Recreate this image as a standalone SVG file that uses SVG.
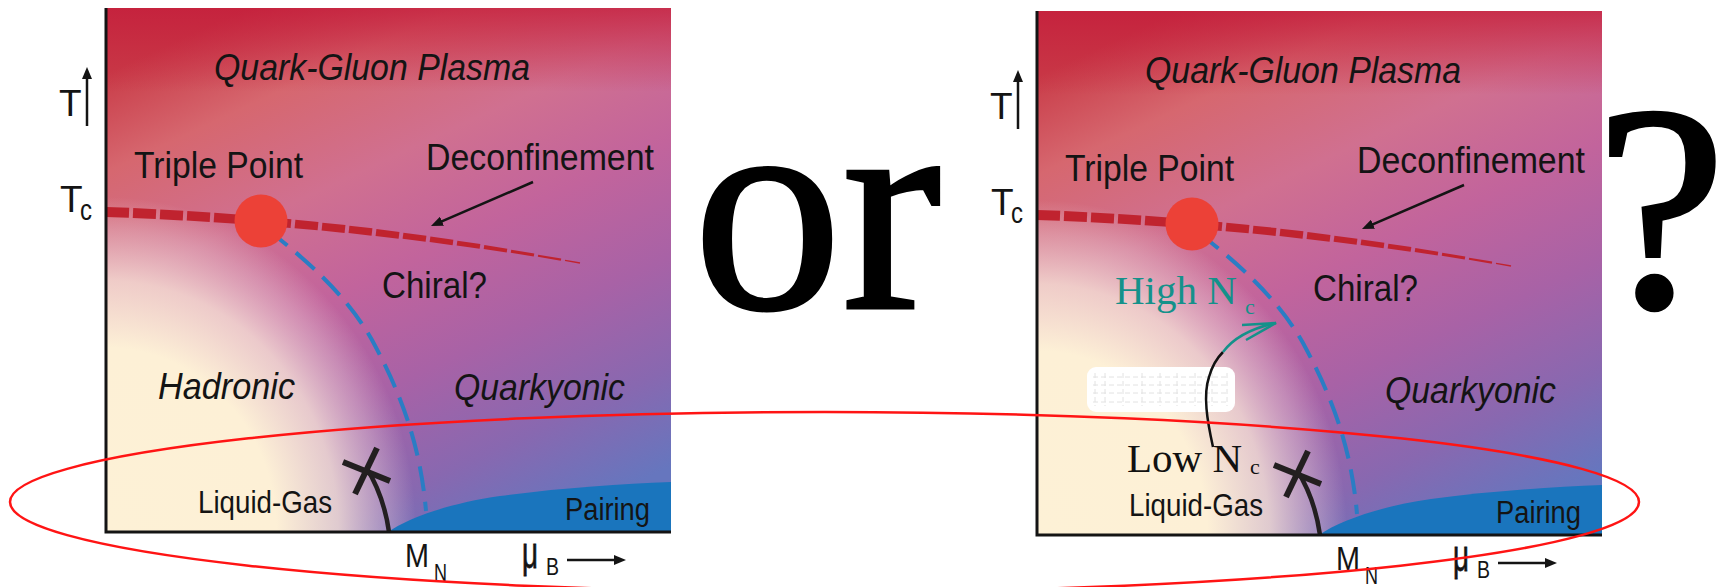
<svg xmlns="http://www.w3.org/2000/svg" width="1726" height="587" viewBox="0 0 1726 587">
<style>
.lbl{font-family:"Liberation Sans",Arial,sans-serif;fill:#141414}
.it{font-style:italic}
.ser{font-family:"Liberation Serif","Times New Roman",serif}
.tc{stroke:#c0232f;fill:none;stroke-linecap:butt}
.blue{stroke:#2a7dc4;stroke-width:4;fill:none;stroke-dasharray:25 11}
.ax{stroke:#141414;stroke-width:3;fill:none}
.arr{stroke:#141414;stroke-width:2.5;fill:none}
.grid{stroke:#e2e2e2;stroke-width:1;fill:none}
</style>
<defs>
<linearGradient id="bg" x1="0.25" y1="0" x2="0.75" y2="1">
<stop offset="0" stop-color="#c93c48"/>
<stop offset="0.15" stop-color="#d6676f"/>
<stop offset="0.33" stop-color="#d07090"/>
<stop offset="0.5" stop-color="#c2649c"/>
<stop offset="0.68" stop-color="#a862a6"/>
<stop offset="0.85" stop-color="#8868b0"/>
<stop offset="1" stop-color="#6676be"/>
</linearGradient>
<linearGradient id="topband" x1="0" y1="0" x2="0" y2="1">
<stop offset="0" stop-color="#c41a3a" stop-opacity="0.75"/>
<stop offset="0.16" stop-color="#c41a3a" stop-opacity="0"/>
</linearGradient>
<radialGradient id="cream" gradientUnits="userSpaceOnUse" cx="0" cy="0" r="1" fx="0" fy="0" gradientTransform="translate(106,532) scale(310,335)">
<stop offset="0" stop-color="#fdf1d6" stop-opacity="1"/>
<stop offset="0.55" stop-color="#fdf0d6" stop-opacity="1"/>
<stop offset="0.75" stop-color="#f8e6d8" stop-opacity="0.78"/>
<stop offset="0.9" stop-color="#f0d8da" stop-opacity="0.35"/>
<stop offset="1" stop-color="#f0d8da" stop-opacity="0"/>
</radialGradient>
<marker id="ah" viewBox="0 0 12 10" refX="4" refY="5" markerWidth="12" markerHeight="10" markerUnits="userSpaceOnUse" orient="auto">
<path d="M0,0 L12,5 L0,10 z" fill="#141414"/>
</marker>
</defs>

<g id="panel-left">
<g id="bg-left">
<rect x="106" y="8" width="565" height="524" fill="url(#bg)"/>
<rect x="106" y="8" width="565" height="524" fill="url(#topband)"/>
<rect x="106" y="8" width="565" height="524" fill="url(#cream)"/>
</g>
<path id="pairing-left" d="M388,532 C408,518 450,503 500,496 C560,488 620,484 671,482 V532 Z" fill="#1a75bd"/>
<g id="tc-line-left" class="tc">
<line x1="106" y1="212" x2="129" y2="212.86" stroke-width="10"/>
<line x1="133" y1="213.03" x2="156" y2="214.09" stroke-width="9.94"/>
<line x1="160" y1="214.29" x2="183" y2="215.54" stroke-width="9.83"/>
<line x1="187" y1="215.77" x2="210" y2="217.22" stroke-width="9.66"/>
<line x1="214" y1="217.48" x2="237" y2="219.12" stroke-width="9.43"/>
<line x1="241" y1="219.42" x2="264" y2="221.25" stroke-width="9.14"/>
<line x1="268" y1="221.58" x2="291" y2="223.61" stroke-width="8.79"/>
<line x1="295" y1="223.97" x2="318" y2="226.19" stroke-width="8.39"/>
<line x1="322" y1="226.59" x2="345" y2="229" stroke-width="7.93"/>
<line x1="349" y1="229.43" x2="372" y2="232.03" stroke-width="7.41"/>
<line x1="376" y1="232.5" x2="399" y2="235.3" stroke-width="6.83"/>
<line x1="403" y1="235.8" x2="426" y2="238.78" stroke-width="6.19"/>
<line x1="430" y1="239.32" x2="453" y2="242.5" stroke-width="5.49"/>
<line x1="457" y1="243.07" x2="480" y2="246.44" stroke-width="4.74"/>
<line x1="484" y1="247.04" x2="507" y2="250.6" stroke-width="3.92"/>
<line x1="511" y1="251.24" x2="534" y2="255" stroke-width="3.05"/>
<line x1="538" y1="255.67" x2="561" y2="259.62" stroke-width="2.12"/>
<line x1="565" y1="260.32" x2="580" y2="263" stroke-width="1.28"/>
</g>
<path id="chiral-line-left" class="blue" d="M268,230 C300,255 345,292 372,340 C398,388 420,440 426,511"/>
<g id="liquid-gas-left">
<path d="M389,532 Q384,496 366,467" stroke="#231f20" stroke-width="4.5" fill="none"/>
<line x1="343" y1="462" x2="390" y2="481" stroke="#231f20" stroke-width="6"/>
<line x1="377" y1="448" x2="355" y2="494" stroke="#231f20" stroke-width="6"/>
</g>
<circle id="triple-point-left" cx="261" cy="221" r="26.5" fill="#ec4137"/>
<path id="axes-left" class="ax" d="M106,8 V532 H671"/>
<line id="decon-arrow-left" class="arr" x1="533" y1="182" x2="438.3" y2="222.8" marker-end="url(#ah)"/>
<line id="t-arrow-left" class="arr" x1="87" y1="126" x2="87" y2="75" marker-end="url(#ah)"/>
<line id="mu-arrow-left" class="arr" x1="567" y1="560" x2="618" y2="560" marker-end="url(#ah)"/>
<g id="labels-left" class="lbl">
<text class="it" x="214" y="80" font-size="37" textLength="316" lengthAdjust="spacingAndGlyphs">Quark-Gluon Plasma</text>
<text x="134" y="178" font-size="37" textLength="169" lengthAdjust="spacingAndGlyphs">Triple Point</text>
<text x="426" y="170" font-size="37" textLength="228" lengthAdjust="spacingAndGlyphs">Deconfinement</text>
<text x="382" y="298" font-size="37" textLength="105" lengthAdjust="spacingAndGlyphs">Chiral?</text>
<text class="it" x="158" y="399" font-size="37" textLength="137" lengthAdjust="spacingAndGlyphs">Hadronic</text>
<text class="it" x="454" y="400" font-size="37" textLength="171" lengthAdjust="spacingAndGlyphs">Quarkyonic</text>
<text x="198" y="513" font-size="32" textLength="134" lengthAdjust="spacingAndGlyphs">Liquid-Gas</text>
<text x="565" y="520" font-size="31" textLength="85" lengthAdjust="spacingAndGlyphs">Pairing</text>
<text x="59" y="116" font-size="37">T</text>
<text x="60" y="212" font-size="37">T</text>
<text x="80" y="220" font-size="29" textLength="12" lengthAdjust="spacingAndGlyphs">c</text>
<text x="405" y="567" font-size="34" textLength="24" lengthAdjust="spacingAndGlyphs">M</text>
<text x="434" y="581" font-size="23" textLength="13" lengthAdjust="spacingAndGlyphs">N</text>
<text x="522" y="568" font-size="44" textLength="16" lengthAdjust="spacingAndGlyphs" stroke="#141414" stroke-width="0.8">μ</text>
<text x="546" y="575" font-size="23" textLength="13" lengthAdjust="spacingAndGlyphs">B</text>
</g>
</g>

<g id="panel-right" transform="translate(931,3)">
<g id="bg-right">
<rect x="106" y="8" width="565" height="524" fill="url(#bg)"/>
<rect x="106" y="8" width="565" height="524" fill="url(#topband)"/>
<rect x="106" y="8" width="565" height="524" fill="url(#cream)"/>
</g>
<path id="pairing-right" d="M388,532 C408,518 450,503 500,496 C560,488 620,484 671,482 V532 Z" fill="#1a75bd"/>
<g id="tc-line-right" class="tc">
<line x1="106" y1="212" x2="129" y2="212.86" stroke-width="10"/>
<line x1="133" y1="213.03" x2="156" y2="214.09" stroke-width="9.94"/>
<line x1="160" y1="214.29" x2="183" y2="215.54" stroke-width="9.83"/>
<line x1="187" y1="215.77" x2="210" y2="217.22" stroke-width="9.66"/>
<line x1="214" y1="217.48" x2="237" y2="219.12" stroke-width="9.43"/>
<line x1="241" y1="219.42" x2="264" y2="221.25" stroke-width="9.14"/>
<line x1="268" y1="221.58" x2="291" y2="223.61" stroke-width="8.79"/>
<line x1="295" y1="223.97" x2="318" y2="226.19" stroke-width="8.39"/>
<line x1="322" y1="226.59" x2="345" y2="229" stroke-width="7.93"/>
<line x1="349" y1="229.43" x2="372" y2="232.03" stroke-width="7.41"/>
<line x1="376" y1="232.5" x2="399" y2="235.3" stroke-width="6.83"/>
<line x1="403" y1="235.8" x2="426" y2="238.78" stroke-width="6.19"/>
<line x1="430" y1="239.32" x2="453" y2="242.5" stroke-width="5.49"/>
<line x1="457" y1="243.07" x2="480" y2="246.44" stroke-width="4.74"/>
<line x1="484" y1="247.04" x2="507" y2="250.6" stroke-width="3.92"/>
<line x1="511" y1="251.24" x2="534" y2="255" stroke-width="3.05"/>
<line x1="538" y1="255.67" x2="561" y2="259.62" stroke-width="2.12"/>
<line x1="565" y1="260.32" x2="580" y2="263" stroke-width="1.28"/>
</g>
<path id="chiral-line-right" class="blue" d="M268,230 C300,255 345,292 372,340 C398,388 420,440 426,511"/>
<g id="liquid-gas-right">
<path d="M389,532 Q384,496 366,467" stroke="#231f20" stroke-width="4.5" fill="none"/>
<line x1="343" y1="462" x2="390" y2="481" stroke="#231f20" stroke-width="6"/>
<line x1="377" y1="448" x2="355" y2="494" stroke="#231f20" stroke-width="6"/>
</g>
<circle id="triple-point-right" cx="261" cy="221" r="26.5" fill="#ec4137"/>
<path id="axes-right" class="ax" d="M106,8 V532 H671"/>
<line id="decon-arrow-right" class="arr" x1="533" y1="182" x2="438.3" y2="222.8" marker-end="url(#ah)"/>
<line id="t-arrow-right" class="arr" x1="87" y1="126" x2="87" y2="75" marker-end="url(#ah)"/>
<line id="mu-arrow-right" class="arr" x1="567" y1="560" x2="618" y2="560" marker-end="url(#ah)"/>
<g id="labels-right" class="lbl">
<text class="it" x="214" y="80" font-size="37" textLength="316" lengthAdjust="spacingAndGlyphs">Quark-Gluon Plasma</text>
<text x="134" y="178" font-size="37" textLength="169" lengthAdjust="spacingAndGlyphs">Triple Point</text>
<text x="426" y="170" font-size="37" textLength="228" lengthAdjust="spacingAndGlyphs">Deconfinement</text>
<text x="382" y="298" font-size="37" textLength="105" lengthAdjust="spacingAndGlyphs">Chiral?</text>
<text class="it" x="454" y="400" font-size="37" textLength="171" lengthAdjust="spacingAndGlyphs">Quarkyonic</text>
<text x="198" y="513" font-size="32" textLength="134" lengthAdjust="spacingAndGlyphs">Liquid-Gas</text>
<text x="565" y="520" font-size="31" textLength="85" lengthAdjust="spacingAndGlyphs">Pairing</text>
<text x="59" y="116" font-size="37">T</text>
<text x="60" y="212" font-size="37">T</text>
<text x="80" y="220" font-size="29" textLength="12" lengthAdjust="spacingAndGlyphs">c</text>
<text x="405" y="567" font-size="34" textLength="24" lengthAdjust="spacingAndGlyphs">M</text>
<text x="434" y="581" font-size="23" textLength="13" lengthAdjust="spacingAndGlyphs">N</text>
<text x="522" y="568" font-size="44" textLength="16" lengthAdjust="spacingAndGlyphs" stroke="#141414" stroke-width="0.8">μ</text>
<text x="546" y="575" font-size="23" textLength="13" lengthAdjust="spacingAndGlyphs">B</text>
</g>
</g>

<g id="blank-box">
<rect x="1087" y="367" width="148" height="45" rx="9" fill="#ffffff"/>
<path class="grid" d="M1093,377 H1228 M1093,385 H1228 M1093,393 H1228 M1093,402 H1228 M1095,373 V406 M1105,373 V406 M1123,373 V406 M1142,373 V406 M1160,373 V406 M1177,373 V406 M1195,373 V406 M1212,373 V406 M1227,373 V406" stroke-dasharray="5 3"/>
</g>

<g id="nc-arrow">
<path d="M1213,447 C1207,420 1203,395 1209,377 C1212,366 1217,358 1223,352" stroke="#111111" stroke-width="2.5" fill="none"/>
<path d="M1223,352 C1232,340 1248,329 1276,323" stroke="#14918a" stroke-width="2.5" fill="none"/>
<path d="M1242,325 L1276,323 L1246,340" stroke="#14918a" stroke-width="2.5" fill="none"/>
</g>

<g id="high-nc">
<text class="ser" x="1115" y="304" font-size="41" fill="#14918a">High N</text>
<text class="ser" x="1245" y="314" font-size="22" fill="#14918a">c</text>
</g>
<g id="low-nc">
<text class="ser" x="1127" y="471.5" font-size="41" fill="#111111">Low N</text>
<text class="ser" x="1250" y="474" font-size="22" fill="#111111">c</text>
</g>

<text id="or" class="ser" x="693" y="308" font-size="298" fill="#000000" stroke="#000000" stroke-width="3">or</text>
<text id="question" class="ser" x="1596" y="306" font-size="292" fill="#000000" stroke="#000000" stroke-width="4">?</text>

<ellipse id="highlight" cx="824.5" cy="502" rx="814.5" ry="90" fill="none" stroke="#ff1414" stroke-width="2.5"/>
</svg>
